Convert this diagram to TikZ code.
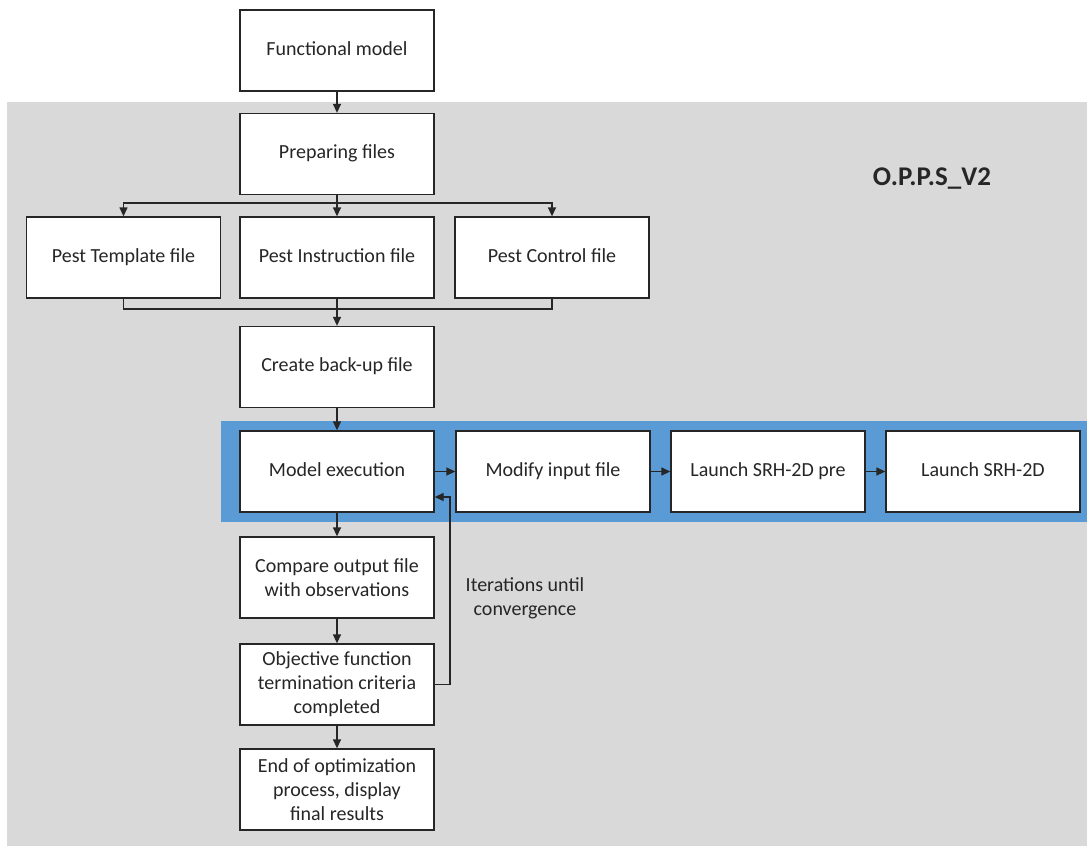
\documentclass[tikz,border=0pt]{standalone}
\usepackage{fontspec}
\setmainfont{Carlito}
\usetikzlibrary{arrows.meta}
\definecolor{bg}{HTML}{D9D9D9}
\definecolor{band}{HTML}{5B9BD5}
\definecolor{ink}{HTML}{262626}
\begin{document}
\begin{tikzpicture}[x=1pt,y=-1pt,
  box/.style={draw=ink, line width=1.3pt, fill=white, minimum width=194pt, minimum height=81pt, inner sep=2pt, align=center, font=\fontsize{20}{24}\selectfont, text=ink},
  onebox/.style={box, text height=14pt, text depth=5pt},
  arr/.style={line width=1.3pt, draw=ink, -{Triangle[length=9pt,width=8pt]}},
  ln/.style={line width=1.3pt, draw=ink},
  lbl/.style={align=center, font=\fontsize{20}{24}\selectfont, text=ink}]
\useasboundingbox (0,0) rectangle (1087,846);
\fill[bg] (7,102) rectangle (1087,846);
\fill[band] (221,421) rectangle (1087,522);

\node[onebox] (fm) at (337,50.5) {Functional model};
\node[onebox] (pf) at (337,154) {Preparing files};
\node[onebox] (pt) at (123.5,257.5) {Pest Template file};
\node[onebox] (pi) at (337,257.5) {Pest Instruction file};
\node[onebox] (pc) at (552,257.5) {Pest Control file};
\node[onebox] (cb) at (337,367) {Create back-up file};
\node[onebox] (me) at (337,471.5) {Model execution};
\node[onebox] (mi) at (553,471.5) {Modify input file};
\node[onebox] (sp) at (768,471.5) {Launch SRH-2D pre};
\node[onebox] (s2) at (983,471.5) {Launch SRH-2D};
\node[box] (co) at (337,577.5) {Compare output file\\with observations};
\node[box] (of) at (337,684.5) {Objective function\\termination criteria\\completed};
\node[box] (eo) at (337,789.5) {End of optimization\\process, display\\final results};

\node[lbl] (it) at (525,598) {Iterations until\\convergence};
\node[font=\fontsize{27}{30}\selectfont\bfseries, text=ink] (title) at (932,179) {O.P.P.S\_V2};

\coordinate (br) at (337,203);
\coordinate (mg) at (337,309);
\coordinate (rt) at (450,497);

\draw[arr] (fm) -- (pf);
\draw[arr] (pf) -- (pi);
\draw[arr] (br) -| (pt.north);
\draw[arr] (br) -| (pc.north);
\draw[ln] (pt.south) |- (mg);
\draw[ln] (pc.south) |- (mg);
\draw[arr] (pi) -- (cb);
\draw[arr] (cb) -- (me);
\draw[arr] (me) -- (mi);
\draw[arr] (mi) -- (sp);
\draw[arr] (sp) -- (s2);
\draw[arr] (me) -- (co);
\draw[arr] (co) -- (of);
\draw[arr] (of) -- (eo);
\draw[arr] (of.east) -| (rt) -- (me.east |- rt);
\end{tikzpicture}
\end{document}
